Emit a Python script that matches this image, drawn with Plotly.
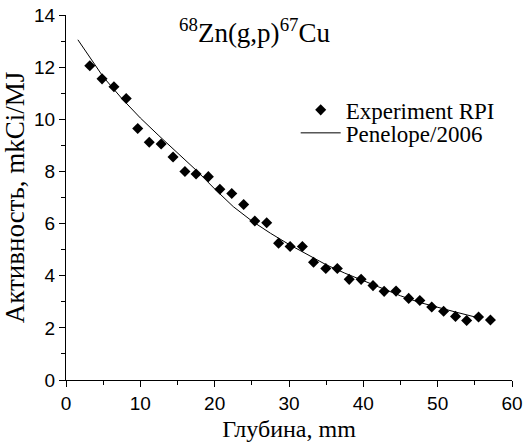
import plotly.graph_objects as go

# Experimental points (depth mm, activity mkCi/MJ)
exp_x = [3.2, 4.85, 6.45, 8.1, 9.65, 11.2, 12.8, 14.4, 16.0, 17.5, 19.15, 20.7, 22.3, 23.9,
         25.4, 27.0, 28.6, 30.15, 31.8, 33.3, 34.95, 36.5, 38.1, 39.7, 41.3, 42.8, 44.4,
         46.1, 47.6, 49.2, 50.8, 52.4, 53.9, 55.5, 57.1]
exp_y = [12.05, 11.55, 11.25, 10.8, 9.65, 9.12, 9.05, 8.55, 8.0, 7.9, 7.8, 7.32, 7.15, 6.73,
         6.1, 6.03, 5.25, 5.12, 5.12, 4.52, 4.28, 4.28, 3.86, 3.86, 3.62, 3.4, 3.41,
         3.13, 3.05, 2.8, 2.64, 2.44, 2.28, 2.42, 2.3]

# Penelope/2006 simulation curve
sim_x = [1.6, 3, 5, 7.5, 10, 12.5, 15, 17.5, 20, 22.5, 25, 27.5, 30, 32.5, 35, 37.5,
         40, 42.5, 45, 47.5, 50, 52.5, 55]
sim_y = [13.05, 12.45, 11.63, 10.8, 10.05, 9.37, 8.7, 8.05, 7.33, 6.65, 6.1, 5.63, 5.2,
         4.8, 4.42, 4.1, 3.8, 3.5, 3.23, 2.98, 2.78, 2.6, 2.42]

x_ticks = [0, 10, 20, 30, 40, 50, 60]
y_ticks = [0, 2, 4, 6, 8, 10, 12, 14]

serif = "Liberation Serif"
sans = "Liberation Sans"

fig = go.Figure()
fig.add_trace(go.Scatter(
    x=exp_x, y=exp_y, mode="markers", name="Experiment RPI",
    marker=dict(symbol="diamond", size=8.5, color="black"),
    legend="legend"))
fig.add_trace(go.Scatter(
    x=sim_x, y=sim_y, mode="lines", name="Penelope/2006",
    line=dict(color="black", width=1),
    legend="legend2"))

axis_common = dict(
    showline=True, linecolor="black", linewidth=1, mirror=False,
    ticks="outside", ticklen=6, tickwidth=1, tickcolor="black",
    showgrid=False, zeroline=False, automargin=False,
    tickfont=dict(family=sans, size=19, color="black"),
    minor=dict(ticks="outside", ticklen=4, tickwidth=1, tickcolor="black"),
)

fig.update_xaxes(range=[0, 60], tickvals=x_ticks, ticktext=[str(v) for v in x_ticks],
                 minor_dtick=5,
                 title=dict(text="Глубина, mm", font=dict(family=serif, size=24, color="black"),
                            standoff=7),
                 **axis_common)
fig.update_yaxes(range=[0, 14], tickvals=y_ticks, ticktext=[str(v) for v in y_ticks],
                 minor_dtick=1,
                 title=dict(text="Активность, mkCi/MJ", font=dict(family=serif, size=27, color="black"),
                            standoff=4),
                 **axis_common)

legend_common = dict(bgcolor="rgba(0,0,0,0)", borderwidth=0,
                     font=dict(family=serif, size=23, color="black"),
                     xanchor="left", yanchor="middle", itemwidth=40)

fig.update_layout(
    width=527, height=443,
    margin=dict(l=66, r=15, t=15, b=63),
    paper_bgcolor="white", plot_bgcolor="white",
    showlegend=True,
    legend=dict(x=0.515, y=0.74, **legend_common),
    legend2=dict(x=0.515, y=0.677, **legend_common),
    annotations=[dict(
        text="<sup>68</sup>Zn(g,p)<sup>67</sup>Cu",
        xref="paper", yref="paper", x=0.424, y=0.955,
        xanchor="center", yanchor="middle", showarrow=False,
        font=dict(family=serif, size=27, color="black"))],
)

fig.write_html("out.html")
